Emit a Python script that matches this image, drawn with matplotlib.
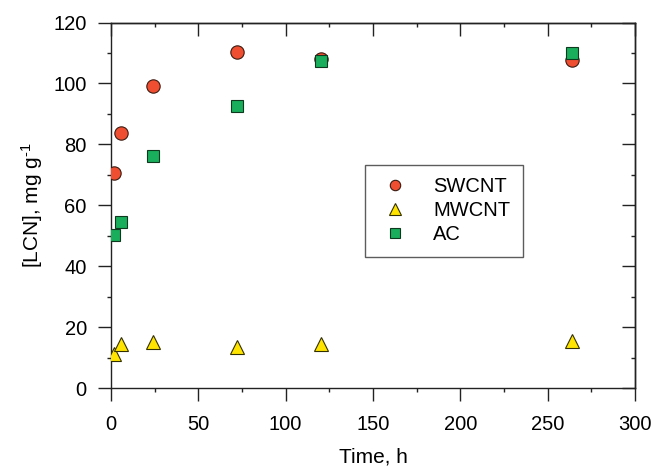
import matplotlib
matplotlib.use("Agg")
import matplotlib.pyplot as plt
from matplotlib.ticker import MultipleLocator

plt.rcParams['font.family'] = ['Liberation Sans', 'DejaVu Sans']
plt.rcParams['mathtext.fontset'] = 'custom'
plt.rcParams['mathtext.rm'] = 'Liberation Sans'
plt.rcParams['mathtext.it'] = 'Liberation Sans:italic'
plt.rcParams['mathtext.bf'] = 'Liberation Sans:bold'

time_h = [2, 6, 24, 72, 120, 264]
swcnt = [70.7, 83.8, 99.3, 110.4, 108.0, 107.8]
mwcnt = [11.1, 14.6, 15.2, 13.5, 14.4, 15.5]
ac = [50.4, 54.5, 76.2, 92.5, 107.5, 110.0]

fig = plt.figure(figsize=(6.54, 4.71), dpi=100)
ax = fig.add_axes([0.1697, 0.1762, 0.8012, 0.776])

ax.plot(time_h, swcnt, 'o', ms=9.6, mfc='#F04E30', mec='#3a1a10', mew=0.8, ls='none', label='SWCNT', zorder=3)
ax.plot(time_h, mwcnt, '^', ms=10.5, mfc='#FFE400', mec='#333000', mew=0.8, ls='none', label='MWCNT', zorder=3)
ax.plot(time_h, ac, 's', ms=8.4, mfc='#19AE5B', mec='#0d3a1e', mew=0.8, ls='none', label='AC', zorder=4)

ax.set_xlim(0, 300)
ax.set_ylim(0, 120)
ax.xaxis.set_major_locator(MultipleLocator(50))
ax.xaxis.set_minor_locator(MultipleLocator(25))
ax.yaxis.set_major_locator(MultipleLocator(20))
ax.yaxis.set_minor_locator(MultipleLocator(10))

for s in ax.spines.values():
    s.set_linewidth(1.0)
    s.set_color('#222222')

ax.tick_params(which='both', bottom=True, left=True, top=False, right=False, direction='out', color='#222222', width=1.0)
ax.tick_params(which='major', length=9.4, labelsize=14.5)
ax.tick_params(axis='x', which='major', pad=10)
ax.tick_params(axis='y', which='major', pad=8)
ax.tick_params(which='minor', length=2.9)

# inward ticks on top and right
ax2 = ax.secondary_xaxis('top')
ax2.xaxis.set_major_locator(MultipleLocator(50))
ax2.xaxis.set_minor_locator(MultipleLocator(25))
ax2.tick_params(which='both', direction='in', labeltop=False, color='#222222', width=1.0)
ax2.tick_params(which='major', length=9.4)
ax2.tick_params(which='minor', length=2.9)
ax2.spines['top'].set_linewidth(1.0)
ax3 = ax.secondary_yaxis('right')
ax3.yaxis.set_major_locator(MultipleLocator(20))
ax3.yaxis.set_minor_locator(MultipleLocator(10))
ax3.tick_params(which='both', direction='in', labelright=False, color='#222222', width=1.0)
ax3.tick_params(which='major', length=9.4)
ax3.tick_params(which='minor', length=2.9)
ax3.spines['right'].set_linewidth(1.0)

ax.set_xlabel('Time, h', fontsize=15, labelpad=9.5)
ax.set_ylabel('[LCN], mg g$^{\\text{-1}}$', fontsize=15, labelpad=6)

leg = ax.legend(loc='upper left', bbox_to_anchor=(0.4847, 0.6093), fontsize=14.5, frameon=True,
                fancybox=False, edgecolor='#333333', handletextpad=1.0, borderpad=0.6,
                labelspacing=0.25, handlelength=1.8, borderaxespad=0, markerscale=0.78)
leg.get_frame().set_linewidth(1.0)

fig.savefig('out.png', dpi=100)
